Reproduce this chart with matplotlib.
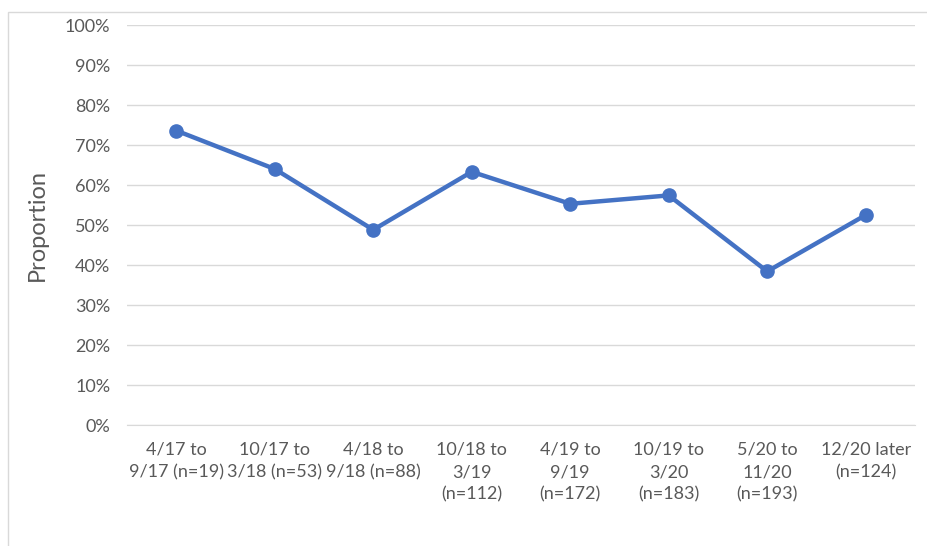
import matplotlib
matplotlib.use('Agg')
from matplotlib import pyplot as plt
from matplotlib.patches import Rectangle

periods = ['4/17 to\n9/17 (n=19)', '10/17 to\n3/18 (n=53)', '4/18 to\n9/18 (n=88)',
           '10/18 to\n3/19\n(n=112)', '4/19 to\n9/19\n(n=172)', '10/19 to\n3/20\n(n=183)',
           '5/20 to\n11/20\n(n=193)', '12/20 later\n(n=124)']
proportion = [73.6, 64.0, 48.8, 63.3, 55.3, 57.4, 38.4, 52.5]
yticks = [0, 10, 20, 30, 40, 50, 60, 70, 80, 90, 100]

plt.rcParams['font.family'] = ['Lato', 'DejaVu Sans']
grey = '#595959'

fig = plt.figure(figsize=(9.28, 5.46), dpi=100)
fig.patches.append(Rectangle((8/928, -0.1), 1, 1 - 12/546 + 0.1, transform=fig.transFigure,
                             fill=False, edgecolor='#d9d9d9', linewidth=1))
ax = fig.add_axes([127/928, 1 - 425/546, 788/928, 400/546])

x = list(range(len(periods)))
ax.plot(x, proportion, color='#4472C4', linewidth=3.2, marker='o', markersize=9.5,
        solid_joinstyle='round', zorder=3)

ax.set_xlim(-0.5, len(periods) - 0.5)
ax.set_ylim(0, 100)
ax.set_yticks(yticks)
ax.set_yticklabels([str(t) + '%' for t in yticks])
ax.set_xticks(x)
ax.set_xticklabels(periods, linespacing=1.5)
ax.tick_params(axis='both', length=0, colors=grey, labelsize=13)
ax.tick_params(axis='x', pad=12)
ax.tick_params(axis='y', pad=12)
ax.grid(axis='y', color='#d9d9d9', linewidth=1)
ax.set_axisbelow(True)
for s in ['top', 'right', 'left']:
    ax.spines[s].set_visible(False)
ax.spines['bottom'].set_color('#d9d9d9')
ax.set_ylabel('Proportion', color=grey, fontsize=17, labelpad=12)

fig.savefig('out.png', dpi=100)
